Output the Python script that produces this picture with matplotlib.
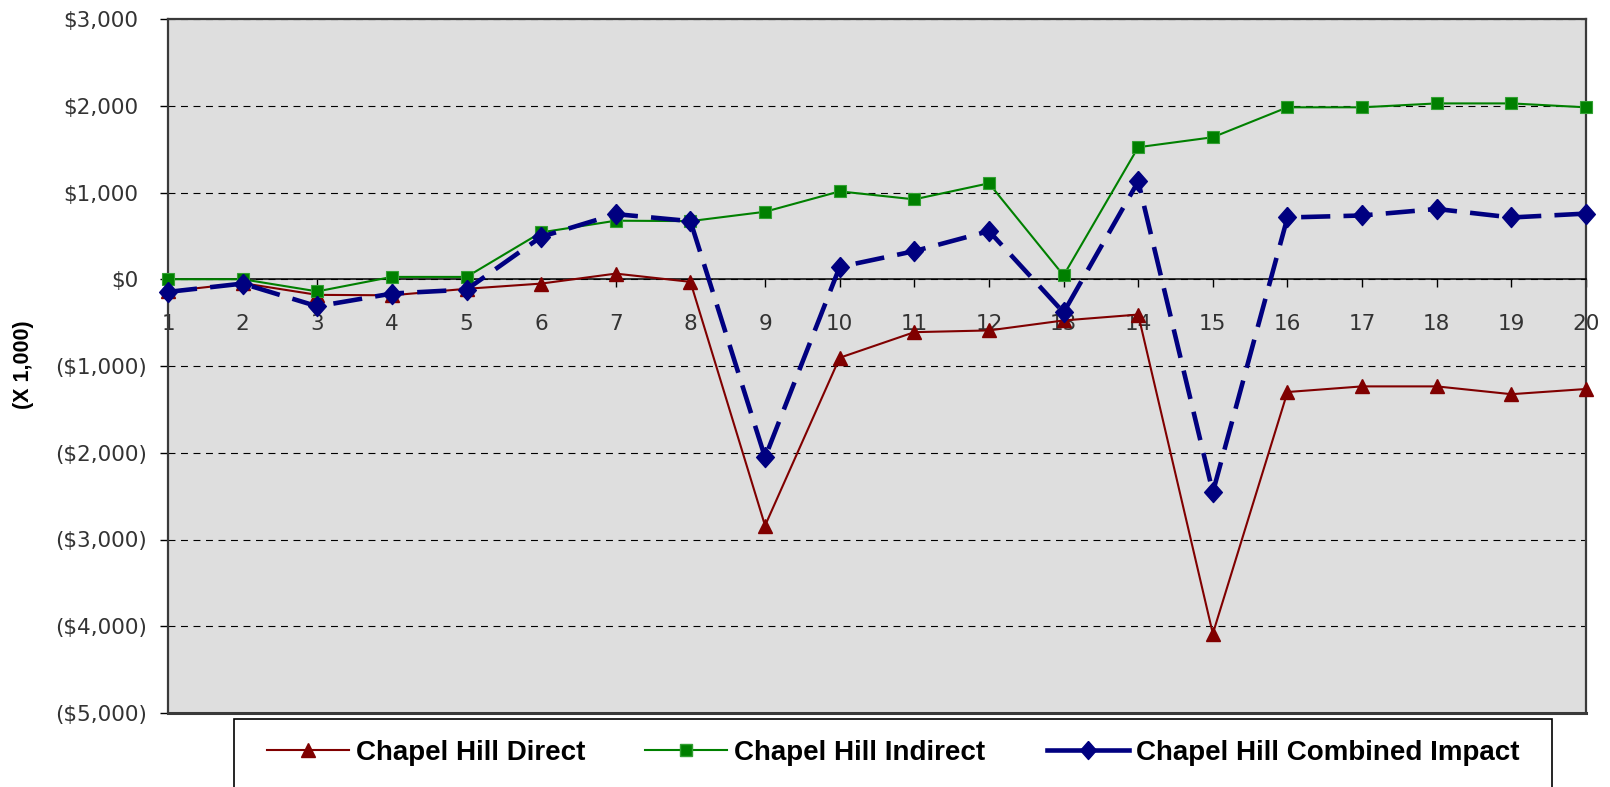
import matplotlib
matplotlib.use("Agg")
import matplotlib.pyplot as plt
from matplotlib.lines import Line2D
from matplotlib.patches import Rectangle
from matplotlib.transforms import ScaledTranslation

plt.rcParams['lines.scale_dashes'] = False

years = list(range(1, 21))
direct = [-140, -45, -180, -185, -110, -50, 65, -30, -2840, -905, -610, -590,
          -475, -407, -4085, -1300, -1235, -1235, -1325, -1265]
indirect = [0, 0, -140, 27, 27, 540, 675, 670, 778, 1013, 921, 1106,
            44, 1522, 1637, 1982, 1982, 2027, 2027, 1982]
combined = [-146, -50, -312, -165, -119, 489, 751, 670, -2054, 142, 324, 555,
            -383, 1128, -2456, 712, 735, 810, 712, 757]
yticks = [3000, 2000, 1000, 0, -1000, -2000, -3000, -4000, -5000]
ytick_labels = ["$3,000", "$2,000", "$1,000", "$0", "($1,000)", "($2,000)",
                "($3,000)", "($4,000)", "($5,000)"]
series_names = ["Chapel Hill Direct", "Chapel Hill Indirect", "Chapel Hill Combined Impact"]

W, H = 1610, 787
fig = plt.figure(figsize=(W / 100, H / 100), dpi=100)
fig.patch.set_facecolor("white")

L, R, T, B = 168, 1586, 19, 713
ax = fig.add_axes([L / W, 1 - B / H, (R - L) / W, (B - T) / H])
ax.set_facecolor("#dedede")

red, green, navy = "#800000", "#008000", "#000080"
diamond = [(0, 1), (0.88, 0), (0, -1), (-0.88, 0), (0, 1)]

ax.plot(years, direct, color=red, lw=1.5, marker="^", markersize=10,
        markerfacecolor=red, markeredgecolor=red, zorder=3, clip_on=False)
ax.plot(years, indirect, color=green, lw=1.5, marker="s", markersize=9,
        markerfacecolor=green, markeredgecolor="#33a033", markeredgewidth=0.8,
        zorder=3, clip_on=False)
ax.plot(years, combined, color=navy, lw=3.3, dashes=(21, 9.5), marker=diamond,
        markersize=14.5, markerfacecolor=navy, markeredgecolor=navy, zorder=4,
        clip_on=False)

ax.set_xlim(1, 20)
ax.set_ylim(-5000, 3000)
ax.set_xticks(years)
ax.set_xticklabels([str(y) for y in years])
ax.set_yticks(yticks)
ax.set_yticklabels(ytick_labels)

ax.set_axisbelow(True)
ax.yaxis.grid(True, color="black", lw=0.8, linestyle=(0, (5, 4)))
ax.xaxis.grid(False)

# frame
for s in ["left", "right", "top"]:
    ax.spines[s].set_color("#3a3a3a")
    ax.spines[s].set_linewidth(1.6)
ax.spines["bottom"].set_position(("data", 0))
ax.spines["bottom"].set_color("black")
ax.spines["bottom"].set_linewidth(1.1)
ax.plot([0, 1], [0, 0], transform=ax.transAxes, color="#3a3a3a", lw=2.2,
        clip_on=False, zorder=5)

ax.tick_params(axis="x", direction="out", length=6, width=1, color="black",
               pad=19, labelsize=15.5, labelcolor="#333333")
ax.tick_params(axis="y", direction="out", length=6, width=1, color="black",
               pad=9, labelsize=15.5, labelcolor="#333333")
for lab in ax.get_xticklabels() + ax.get_yticklabels():
    lab.set_fontfamily("DejaVu Sans")
for lab, val in zip(ax.get_yticklabels(), yticks):
    if val >= 0:
        lab.set_transform(lab.get_transform() +
                          ScaledTranslation(-0.09, 0, fig.dpi_scale_trans))

fig.text(23 / W, 1 - 365 / H, "(X 1,000)", rotation=90, ha="center", va="center",
         fontsize=15.5, fontweight="bold", family="Liberation Sans", color="black")

# legend box
lt, ll, lr = 719, 234, 1552
fig.patches.append(Rectangle((ll / W, -0.05), (lr - ll) / W, (1 - lt / H) + 0.05,
                             transform=fig.transFigure, facecolor="white",
                             edgecolor="black", lw=1.2, zorder=1))

handles = [
    Line2D([], [], color=red, lw=1.5, marker="^", markersize=10, markerfacecolor=red),
    Line2D([], [], color=green, lw=1.5, marker="s", markersize=9, markerfacecolor=green,
           markeredgecolor="#33a033"),
    Line2D([], [], color=navy, lw=3.3, marker=diamond, markersize=13, markerfacecolor=navy),
]
lefts = [267, 645, 1047]
fs = 20
for h, name, x in zip(handles, series_names, lefts):
    leg = fig.legend([h], [name], loc="center left",
                     bbox_to_anchor=(x / W, 1 - 753 / H), frameon=False,
                     borderpad=0, borderaxespad=0, handlelength=82 / (fs * 100 / 72),
                     handletextpad=0.25,
                     prop={"family": "Liberation Sans", "weight": "bold", "size": fs})
    leg.set_zorder(2)

fig.savefig("out.png", dpi=100, facecolor="white")
